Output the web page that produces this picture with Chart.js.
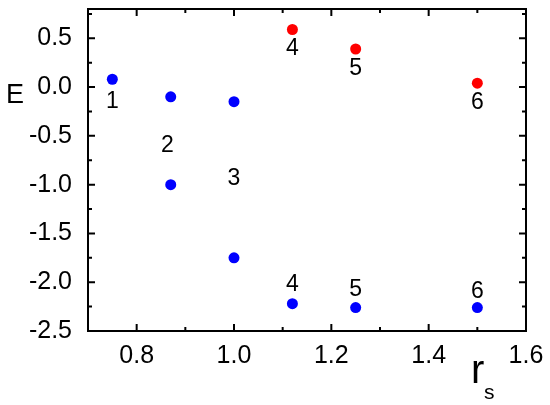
<!DOCTYPE html>
<html>
<head>
<meta charset="utf-8">
<script src="https://cdn.jsdelivr.net/npm/chart.js@4"></script>
<style>
  body { margin: 0; background: #fff; }
  #chart { display: block; }
</style>
</head>
<body>
<canvas id="chart" width="550" height="405"></canvas>
<script>
// lower (blue) and upper (red) points
const blueX = [0.75, 0.87, 0.87, 1.0, 1.0, 1.12, 1.25, 1.5];
const blueY = [0.08, -0.1, -1.0, -0.15, -1.75, -2.22, -2.26, -2.26];
const redX = [1.12, 1.25, 1.5];
const redY = [0.59, 0.39, 0.04];

// number labels next to the points
const labelText = ['1', '2', '3', '4', '5', '6', '4', '5', '6'];
const labelX = [0.75, 0.863, 1.0, 1.12, 1.25, 1.5, 1.12, 1.25, 1.5];
const labelY = [-0.146, -0.597, -0.934, 0.396, 0.191, -0.157, -2.03, -2.08, -2.10];

const xTicks = [0.8, 1.0, 1.2, 1.4, 1.6];
const xMinor = [0.7, 0.9, 1.1, 1.3, 1.5];
const yTicks = [0.5, 0.0, -0.5, -1.0, -1.5, -2.0, -2.5];
const yMinor = [0.75, 0.25, -0.25, -0.75, -1.25, -1.75, -2.25];

const FONT = '"Liberation Sans", Arial, sans-serif';

function pts(xs, ys) {
  let out = [];
  for (let i = 0; i < xs.length; i++) {
    out.push({ x: xs[i], y: ys[i] });
  }
  return out;
}

const framePlugin = {
  id: 'frame',
  afterDraw(chart) {
    const ctx = chart.ctx;
    const a = chart.chartArea;
    const xs = chart.scales.x;
    const ys = chart.scales.y;
    ctx.save();
    ctx.strokeStyle = '#000';
    ctx.lineWidth = 2;
    ctx.strokeRect(a.left, a.top, a.right - a.left, a.bottom - a.top);

    // inward ticks on all four sides
    ctx.beginPath();
    function xt(v, len) {
      const px = xs.getPixelForValue(v);
      ctx.moveTo(px, a.bottom); ctx.lineTo(px, a.bottom - len);
      ctx.moveTo(px, a.top); ctx.lineTo(px, a.top + len);
    }
    function yt(v, len) {
      const py = ys.getPixelForValue(v);
      ctx.moveTo(a.left, py); ctx.lineTo(a.left + len, py);
      ctx.moveTo(a.right, py); ctx.lineTo(a.right - len, py);
    }
    xTicks.forEach(v => xt(v, 7));
    xMinor.forEach(v => xt(v, 4));
    yTicks.forEach(v => yt(v, 7));
    yMinor.forEach(v => yt(v, 4));
    ctx.stroke();

    // point numbers
    ctx.fillStyle = '#000';
    ctx.font = '23px ' + FONT;
    ctx.textAlign = 'center';
    ctx.textBaseline = 'middle';
    for (let i = 0; i < labelText.length; i++) {
      ctx.fillText(labelText[i], xs.getPixelForValue(labelX[i]), ys.getPixelForValue(labelY[i]));
    }

    // axis titles
    ctx.textBaseline = 'alphabetic';
    ctx.textAlign = 'left';
    ctx.font = '27px ' + FONT;
    ctx.fillText('E', 6, 103);
    ctx.font = '40px ' + FONT;
    ctx.fillText('r', 471, 383);
    ctx.font = '21px ' + FONT;
    ctx.fillText('s', 484, 399);
    ctx.restore();
  }
};

new Chart(document.getElementById('chart'), {
  type: 'scatter',
  data: {
    datasets: [
      {
        data: pts(blueX, blueY),
        backgroundColor: '#0000ff',
        borderColor: '#0000ff',
        pointRadius: 5.5,
        pointBorderWidth: 0
      },
      {
        data: pts(redX, redY),
        backgroundColor: '#ff0000',
        borderColor: '#ff0000',
        pointRadius: 5.5,
        pointBorderWidth: 0
      }
    ]
  },
  options: {
    responsive: false,
    animation: false,
    layout: { padding: { top: 9, right: 24, left: 0, bottom: 0 } },
    plugins: { legend: { display: false }, tooltip: { enabled: false } },
    scales: {
      x: {
        type: 'linear',
        min: 0.7,
        max: 1.6,
        grid: { display: false },
        border: { display: false },
        afterBuildTicks: s => { s.ticks = xTicks.map(v => ({ value: v })); },
        afterFit: s => {
          s.height = 74;
          s.paddingLeft = 0; s.paddingRight = 0;
        },
        ticks: {
          color: '#000',
          font: { family: FONT, size: 25 },
          padding: 2,
          maxRotation: 0,
          callback: v => v.toFixed(1)
        }
      },
      y: {
        type: 'linear',
        min: -2.5,
        max: 0.8,
        grid: { display: false },
        border: { display: false },
        afterBuildTicks: s => { s.ticks = yTicks.map(v => ({ value: v })); },
        afterFit: s => {
          s.width = 88;
          s.paddingTop = 0; s.paddingBottom = 0;
        },
        ticks: {
          color: '#000',
          font: { family: FONT, size: 25 },
          padding: 8,
          callback: v => v.toFixed(1)
        }
      }
    }
  },
  plugins: [framePlugin]
});
</script>
</body>
</html>
